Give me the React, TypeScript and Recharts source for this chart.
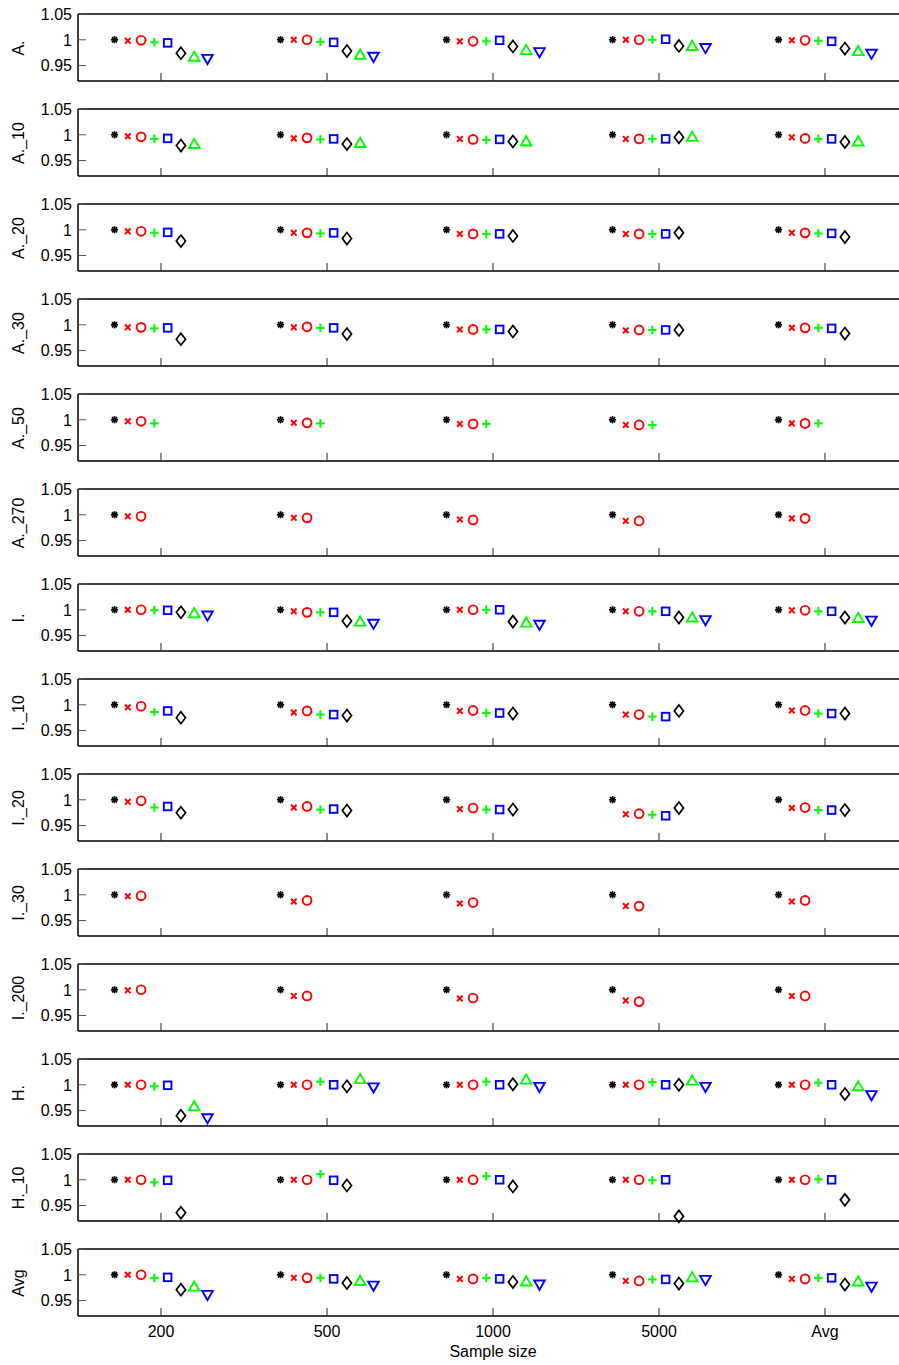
import React from 'react';
import { ScatterChart, Scatter, XAxis, YAxis } from 'recharts';

const categories = ['200', '500', '1000', '5000', 'Avg'];
const panelLabels = ['A.', 'A._10', 'A._20', 'A._30', 'A._50', 'A._270', 'I.', 'I._10', 'I._20', 'I._30', 'I._200', 'H.', 'H._10', 'Avg'];
const yTicks = [0.95, 1, 1.05];
const xTicks = [1, 2, 3, 4, 5];
const xLabel = 'Sample size';

// rows = panels (same order as panelLabels), columns = categories
const asteriskBlack = [
  [1, 1, 1, 1, 1], [1, 1, 1, 1, 1], [1, 1, 1, 1, 1], [1, 1, 1, 1, 1], [1, 1, 1, 1, 1],
  [1, 1, 1, 1, 1], [1, 1, 1, 1, 1], [1, 1, 1, 1, 1], [1, 1, 1, 1, 1], [1, 1, 1, 1, 1],
  [1, 1, 1, 1, 1], [1, 1, 1, 1, 1], [1, 1, 1, 1, 1], [1, 1, 1, 1, 1],
];
const crossRed = [
  [0.998, 1, 0.997, 1, 0.999],
  [0.997, 0.993, 0.992, 0.992, 0.995],
  [0.997, 0.994, 0.992, 0.992, 0.994],
  [0.995, 0.995, 0.991, 0.989, 0.994],
  [0.997, 0.994, 0.992, 0.99, 0.993],
  [0.997, 0.994, 0.991, 0.988, 0.993],
  [1, 0.997, 1, 0.997, 0.999],
  [0.995, 0.985, 0.988, 0.981, 0.989],
  [0.996, 0.985, 0.982, 0.972, 0.984],
  [0.997, 0.987, 0.983, 0.978, 0.987],
  [0.999, 0.988, 0.983, 0.979, 0.988],
  [1, 1, 1, 1, 1],
  [1, 1, 1, 1, 1],
  [1, 0.994, 0.992, 0.988, 0.992],
];
const circleRed = [
  [0.999, 1, 0.997, 1, 0.999],
  [0.996, 0.994, 0.991, 0.992, 0.993],
  [0.997, 0.994, 0.992, 0.992, 0.994],
  [0.995, 0.996, 0.991, 0.99, 0.994],
  [0.997, 0.994, 0.992, 0.99, 0.993],
  [0.997, 0.994, 0.99, 0.988, 0.993],
  [1, 0.995, 1, 0.997, 0.999],
  [0.997, 0.988, 0.989, 0.981, 0.989],
  [0.998, 0.987, 0.984, 0.973, 0.985],
  [0.998, 0.989, 0.985, 0.978, 0.989],
  [1, 0.988, 0.984, 0.977, 0.988],
  [1, 1, 1, 1, 1],
  [1, 1, 1, 1, 1],
  [1, 0.994, 0.992, 0.988, 0.992],
];
const plusGreen = [
  [0.995, 0.996, 0.997, 1, 0.998],
  [0.992, 0.991, 0.99, 0.992, 0.992],
  [0.994, 0.993, 0.992, 0.992, 0.993],
  [0.993, 0.994, 0.991, 0.99, 0.994],
  [0.993, 0.993, 0.992, 0.99, 0.993],
  null,
  [0.999, 0.995, 1, 0.997, 0.997],
  [0.986, 0.981, 0.984, 0.977, 0.983],
  [0.985, 0.981, 0.981, 0.971, 0.98],
  null,
  null,
  [0.997, 1.006, 1.006, 1.005, 1.004],
  [0.995, 1.011, 1.007, 0.999, 1.001],
  [0.994, 0.994, 0.994, 0.991, 0.994],
];
const squareBlue = [
  [0.994, 0.995, 0.999, 1.001, 0.997],
  [0.993, 0.992, 0.991, 0.992, 0.992],
  [0.995, 0.994, 0.992, 0.992, 0.993],
  [0.994, 0.994, 0.991, 0.99, 0.993],
  null,
  null,
  [0.999, 0.995, 1, 0.997, 0.997],
  [0.988, 0.981, 0.984, 0.977, 0.983],
  [0.987, 0.982, 0.981, 0.969, 0.98],
  null,
  null,
  [0.999, 1, 1, 1, 1],
  [0.999, 0.999, 1, 1, 1],
  [0.995, 0.992, 0.992, 0.991, 0.994],
];
const diamondBlack = [
  [0.974, 0.978, 0.987, 0.988, 0.983],
  [0.979, 0.982, 0.987, 0.995, 0.986],
  [0.978, 0.983, 0.988, 0.994, 0.986],
  [0.972, 0.982, 0.987, 0.99, 0.983],
  null,
  null,
  [0.995, 0.978, 0.977, 0.985, 0.985],
  [0.975, 0.979, 0.983, 0.988, 0.983],
  [0.975, 0.979, 0.981, 0.984, 0.98],
  null,
  null,
  [0.94, 0.997, 1.001, 1, 0.982],
  [0.936, 0.989, 0.987, 0.929, 0.961],
  [0.971, 0.984, 0.986, 0.983, 0.981],
];
const triUpGreen = [
  [0.967, 0.971, 0.98, 0.988, 0.978],
  [0.982, 0.984, 0.987, 0.996, 0.987],
  null, null, null, null,
  [0.993, 0.977, 0.975, 0.985, 0.984],
  null, null, null, null,
  [0.958, 1.011, 1.01, 1.008, 0.997],
  null,
  [0.977, 0.988, 0.987, 0.995, 0.987],
];
const triDownBlue = [
  [0.963, 0.967, 0.976, 0.984, 0.973],
  null, null, null, null, null,
  [0.989, 0.973, 0.971, 0.98, 0.979],
  null, null, null, null,
  [0.935, 0.995, 0.996, 0.996, 0.98],
  null,
  [0.961, 0.979, 0.981, 0.99, 0.977],
];

type Kind = 'asterisk' | 'cross' | 'circle' | 'plus' | 'square' | 'diamond' | 'triUp' | 'triDown';
const seriesList: { kind: Kind; values: (number[] | null)[] }[] = [
  { kind: 'asterisk', values: asteriskBlack },
  { kind: 'cross', values: crossRed },
  { kind: 'circle', values: circleRed },
  { kind: 'plus', values: plusGreen },
  { kind: 'square', values: squareBlue },
  { kind: 'diamond', values: diamondBlack },
  { kind: 'triUp', values: triUpGreen },
  { kind: 'triDown', values: triDownBlue },
];

const RED = '#ff0000';
const GREEN = '#00ff00';
const BLUE = '#0000ff';
const BLACK = '#000000';
const FONT = '"Liberation Sans", Arial, Helvetica, sans-serif';
const FS = 16;

function Marker({ kind, cx, cy }: { kind: Kind; cx: number; cy: number }) {
  if (cx == null || cy == null) return null;
  switch (kind) {
    case 'asterisk': {
      const r = 3.6;
      const d = r * 0.7071;
      return (
        <g stroke={BLACK} strokeWidth={1.7}>
          <line x1={cx - r} y1={cy} x2={cx + r} y2={cy} />
          <line x1={cx} y1={cy - r} x2={cx} y2={cy + r} />
          <line x1={cx - d} y1={cy - d} x2={cx + d} y2={cy + d} />
          <line x1={cx - d} y1={cy + d} x2={cx + d} y2={cy - d} />
        </g>
      );
    }
    case 'cross': {
      const r = 2.8;
      return (
        <g stroke={RED} strokeWidth={2}>
          <line x1={cx - r} y1={cy - r} x2={cx + r} y2={cy + r} />
          <line x1={cx - r} y1={cy + r} x2={cx + r} y2={cy - r} />
        </g>
      );
    }
    case 'circle':
      return <circle cx={cx} cy={cy} r={4.4} fill="none" stroke={RED} strokeWidth={1.9} />;
    case 'plus': {
      const r = 4.3;
      return (
        <g stroke={GREEN} strokeWidth={2}>
          <line x1={cx - r} y1={cy} x2={cx + r} y2={cy} />
          <line x1={cx} y1={cy - r} x2={cx} y2={cy + r} />
        </g>
      );
    }
    case 'square':
      return <rect x={cx - 3.8} y={cy - 3.8} width={7.6} height={7.6} fill="none" stroke={BLUE} strokeWidth={1.9} />;
    case 'diamond':
      return (
        <polygon
          points={`${cx},${cy - 6} ${cx + 4.6},${cy} ${cx},${cy + 6} ${cx - 4.6},${cy}`}
          fill="none"
          stroke={BLACK}
          strokeWidth={1.7}
        />
      );
    case 'triUp':
      return (
        <polygon
          points={`${cx},${cy - 5.2} ${cx + 5.3},${cy + 4} ${cx - 5.3},${cy + 4}`}
          fill="none"
          stroke={GREEN}
          strokeWidth={1.9}
        />
      );
    case 'triDown':
      return (
        <polygon
          points={`${cx - 5.3},${cy - 4} ${cx + 5.3},${cy - 4} ${cx},${cy + 5.2}`}
          fill="none"
          stroke={BLUE}
          strokeWidth={1.9}
        />
      );
  }
  return null;
}

const PLOT_TOP0 = 14;
const PERIOD = 95;
const PLOT_H = 67;
const M_TOP = 9;
const M_BOTTOM = 44;
const CHART_W = 918;
const AXIS_STYLE = { stroke: BLACK, strokeWidth: 1.5 };
const TICK_LEN = 8;

function Panel({ index }: { index: number }) {
  const isLast = index === panelLabels.length - 1;
  const top = PLOT_TOP0 + index * PERIOD;
  const seriesData = seriesList.map((s, k) => {
    const row = s.values[index];
    const pts = row ? row.map((v, c) => ({ x: c + 1 + (k - 3.5) * 0.08, y: v })) : [];
    return { kind: s.kind, pts };
  });

  return (
    <div style={{ position: 'absolute', left: 0, top: top - M_TOP - 1 }}>
      <ScatterChart
        width={CHART_W}
        height={M_TOP + 1 + PLOT_H + 1 + M_BOTTOM}
        margin={{ top: M_TOP, right: 9, bottom: M_BOTTOM, left: 0 }}
      >
        <XAxis
          xAxisId="b"
          type="number"
          dataKey="x"
          orientation="bottom"
          domain={[0.5, 5.5]}
          ticks={xTicks}
          interval={0}
          height={1}
          tickSize={0}
          tickMargin={0}
          axisLine={AXIS_STYLE}
          tick={(p: any) => (
            <g key={`bt${p.index}`}>
              <line x1={p.x} x2={p.x} y1={p.y} y2={p.y - TICK_LEN} stroke="#222" strokeWidth={1} />
              {isLast ? (
                <text x={p.x} y={p.y + 21} textAnchor="middle" fontSize={FS} fontFamily={FONT} fill={BLACK}>
                  {categories[Math.round(p.payload.value) - 1]}
                </text>
              ) : null}
            </g>
          )}
        />
        <XAxis
          xAxisId="t"
          type="number"
          dataKey="x"
          orientation="top"
          domain={[0.5, 5.5]}
          ticks={xTicks}
          interval={0}
          height={1}
          tickSize={0}
          tickMargin={0}
          axisLine={AXIS_STYLE}
          tick={(p: any) => (
            <line key={`tt${p.index}`} x1={p.x} x2={p.x} y1={p.y} y2={p.y + TICK_LEN} stroke="#222" strokeWidth={1} />
          )}
        />
        <YAxis
          yAxisId="l"
          type="number"
          dataKey="y"
          orientation="left"
          domain={[0.92, 1.05]}
          ticks={yTicks}
          interval={0}
          width={78}
          tickSize={0}
          tickMargin={6}
          axisLine={AXIS_STYLE}
          tick={(p: any) => (
            <g key={`lt${p.index}`}>
              <line x1={p.x + 6} x2={p.x + 6 + TICK_LEN} y1={p.y} y2={p.y} stroke="#555" strokeWidth={1} />
              <text x={p.x} y={p.y} dy="0.36em" textAnchor="end" fontSize={FS} fontFamily={FONT} fill={BLACK}>
                {String(p.payload.value)}
              </text>
            </g>
          )}
        />
        <YAxis
          yAxisId="r"
          type="number"
          dataKey="y"
          orientation="right"
          domain={[0.92, 1.05]}
          ticks={yTicks}
          interval={0}
          width={1}
          tickSize={0}
          tickMargin={0}
          axisLine={AXIS_STYLE}
          tick={(p: any) => (
            <line key={`rt${p.index}`} x1={p.x - TICK_LEN} x2={p.x} y1={p.y} y2={p.y} stroke="#555" strokeWidth={1} />
          )}
        />
        {seriesData.map((s) => (
          <Scatter
            key={s.kind}
            xAxisId="b"
            yAxisId="l"
            data={s.pts}
            isAnimationActive={false}
            shape={(p: any) => <Marker kind={s.kind} cx={p.cx} cy={p.cy} />}
          />
        ))}
      </ScatterChart>
    </div>
  );
}

export default function App() {
  return (
    <div
      style={{
        position: 'absolute',
        left: 0,
        top: 0,
        width: 899,
        height: 1365,
        overflow: 'hidden',
        background: '#ffffff',
        fontFamily: FONT,
      }}
    >
      {panelLabels.map((lab, i) => (
        <Panel key={lab} index={i} />
      ))}
      {panelLabels.map((lab, i) => (
        <div
          key={`lab${i}`}
          style={{
            position: 'absolute',
            left: 19,
            top: PLOT_TOP0 + i * PERIOD + PLOT_H / 2,
            transform: 'translate(-50%, -50%) rotate(-90deg)',
            fontSize: FS,
            lineHeight: 1,
            whiteSpace: 'nowrap',
            color: BLACK,
          }}
        >
          {lab}
        </div>
      ))}
      <div
        style={{
          position: 'absolute',
          left: 493,
          top: 1343,
          transform: 'translateX(-50%)',
          fontSize: FS,
          lineHeight: '18px',
          whiteSpace: 'nowrap',
          color: BLACK,
        }}
      >
        {xLabel}
      </div>
    </div>
  );
}
